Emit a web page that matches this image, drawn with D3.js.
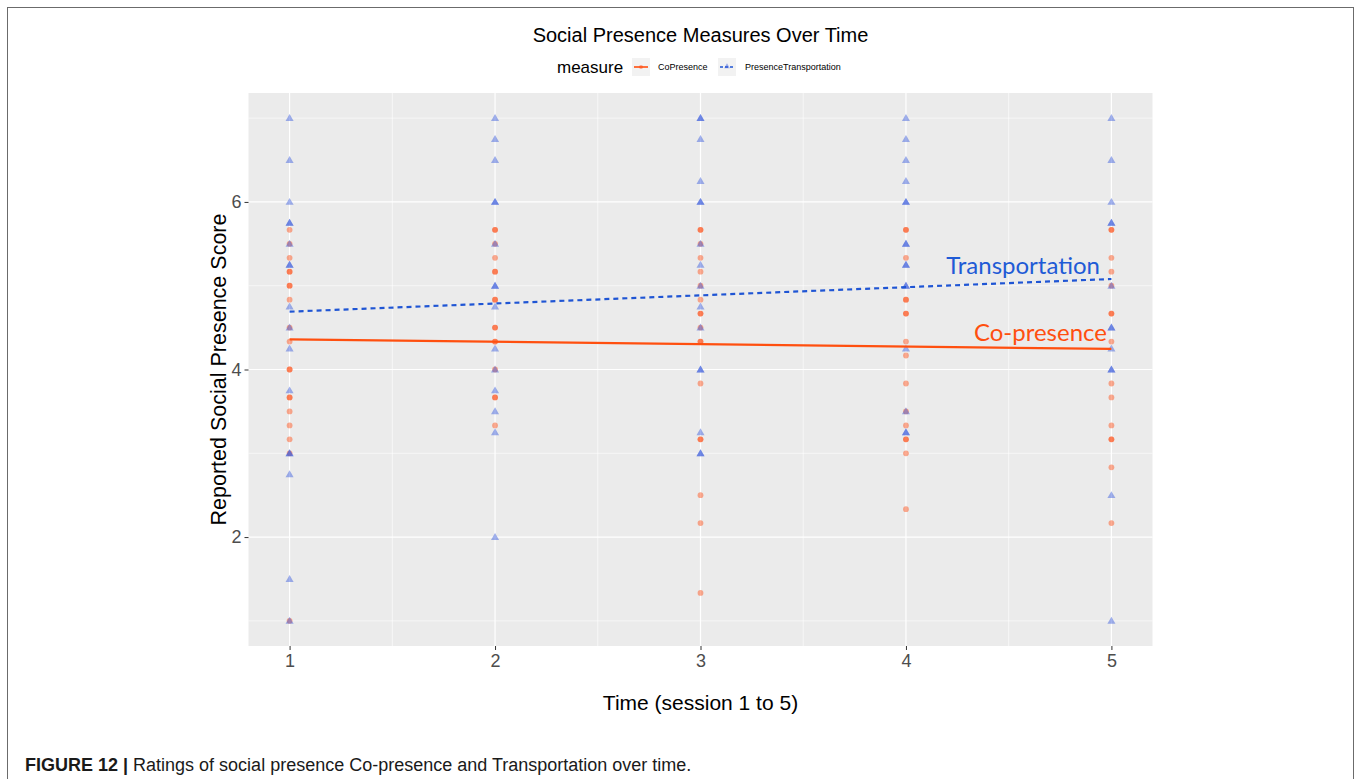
<!DOCTYPE html>
<html>
<head>
<meta charset="utf-8">
<script src="https://cdn.jsdelivr.net/npm/d3@7"></script>
<style>
  html, body { margin: 0; padding: 0; background: #fff; }
  svg { display: block; }
  text { font-family: "Liberation Sans", Arial, Helvetica, sans-serif; }
</style>
</head>
<body>
<svg id="chart" width="1355" height="779"></svg>
<script>
// ---- data -------------------------------------------------------------
const sessions = [1, 2, 3, 4, 5];
const xTicks = [1, 2, 3, 4, 5];
const yTicks = [2, 4, 6];
const measures = ["CoPresence", "PresenceTransportation"];

// Co-presence ratings per session
const coPresence1 = [5.667, 5.5, 5.333, 5.167, 5.167, 5.0, 5.0, 4.833, 4.5, 4.333, 4.0, 4.0, 3.667, 3.667, 3.5, 3.333, 3.167, 3.0, 1.0];
const coPresence2 = [5.667, 5.667, 5.5, 5.333, 5.167, 5.167, 4.833, 4.833, 4.5, 4.5, 4.333, 4.333, 4.0, 3.667, 3.667, 3.333];
const coPresence3 = [5.667, 5.667, 5.5, 5.333, 5.167, 5.0, 4.833, 4.667, 4.667, 4.5, 4.333, 4.333, 3.833, 3.167, 3.167, 2.5, 2.167, 1.333];
const coPresence4 = [5.667, 5.667, 5.333, 4.833, 4.833, 4.667, 4.667, 4.333, 4.167, 3.833, 3.5, 3.333, 3.167, 3.167, 3.0, 2.333];
const coPresence5 = [5.667, 5.667, 5.333, 5.167, 5.0, 4.667, 4.667, 4.333, 3.833, 3.667, 3.333, 3.167, 3.167, 2.833, 2.167];

// Presence / transportation ratings per session
const transport1 = [7, 6.5, 6, 5.75, 5.75, 5.5, 5.25, 5.25, 4.75, 4.5, 4.25, 3.75, 3.0, 3.0, 2.75, 1.5, 1.0];
const transport2 = [7, 6.75, 6.5, 6, 6, 5.5, 5.0, 5.0, 4.75, 4.25, 4.0, 3.75, 3.5, 3.25, 2.0];
const transport3 = [7, 7, 6.75, 6.25, 6, 6, 5.5, 5.25, 5.0, 4.75, 4.5, 4.0, 4.0, 3.25, 3.0, 3.0];
const transport4 = [7, 6.75, 6.5, 6.25, 6, 6, 5.5, 5.5, 5.25, 5.25, 5.0, 5.0, 4.25, 3.5, 3.25, 3.25];
const transport5 = [7, 6.5, 6, 5.75, 5.75, 5.0, 4.5, 4.5, 4.25, 4.0, 4.0, 2.5, 1.0];

// Linear trend (fitted values at first and last session)
const fitSessions = [1, 5];
const coPresenceFit = [4.36, 4.245];
const transportFit = [4.69, 5.08];

// ---- styling -----------------------------------------------------------
const orange = "#FF490F";
const blue = "#3054DB";
const lineOrange = "#FF4F0F";
const lineBlue = "#1F55D4";
const pointAlpha = 0.45;

const svg = d3.select("#chart");
const W = 1355, H = 779;

// figure frame
svg.append("rect").attr("x", 7.5).attr("y", 7.5).attr("width", W - 9).attr("height", H + 10)
  .attr("fill", "#fff").attr("stroke", "#6b6b6b").attr("stroke-width", 1);

const panel = { left: 248.5, right: 1152.5, top: 93, bottom: 646 };

const x = d3.scaleLinear().domain([0.8, 5.2]).range([panel.left, panel.right]);
const y = d3.scaleLinear().domain([0.7, 7.3]).range([panel.bottom, panel.top]);

// panel background
svg.append("rect")
  .attr("x", panel.left).attr("y", panel.top)
  .attr("width", panel.right - panel.left).attr("height", panel.bottom - panel.top)
  .attr("fill", "#EBEBEB");

const grid = svg.append("g");
// minor grid lines (midpoints between breaks)
const xMinor = d3.range(1.5, 5, 1);
const yMinor = [1, 3, 5, 7];
grid.selectAll("line.xminor").data(xMinor).join("line")
  .attr("x1", d => x(d)).attr("x2", d => x(d))
  .attr("y1", panel.top).attr("y2", panel.bottom)
  .attr("stroke", "#fff").attr("stroke-width", 0.6);
grid.selectAll("line.yminor").data(yMinor).join("line")
  .attr("y1", d => y(d)).attr("y2", d => y(d))
  .attr("x1", panel.left).attr("x2", panel.right)
  .attr("stroke", "#fff").attr("stroke-width", 0.6);
// major grid lines
grid.selectAll("line.xmajor").data(xTicks).join("line")
  .attr("x1", d => x(d)).attr("x2", d => x(d))
  .attr("y1", panel.top).attr("y2", panel.bottom)
  .attr("stroke", "#fff").attr("stroke-width", 1.2);
grid.selectAll("line.ymajor").data(yTicks).join("line")
  .attr("y1", d => y(d)).attr("y2", d => y(d))
  .attr("x1", panel.left).attr("x2", panel.right)
  .attr("stroke", "#fff").attr("stroke-width", 1.2);

// ---- points -------------------------------------------------------------
const coBySession = [coPresence1, coPresence2, coPresence3, coPresence4, coPresence5];
const trBySession = [transport1, transport2, transport3, transport4, transport5];

const coPoints = sessions.flatMap((s, i) => coBySession[i].map(v => ({ s, v })));
const trPoints = sessions.flatMap((s, i) => trBySession[i].map(v => ({ s, v })));

svg.append("g").selectAll("circle").data(coPoints).join("circle")
  .attr("cx", d => x(d.s)).attr("cy", d => y(d.v)).attr("r", 2.9)
  .attr("fill", orange).attr("fill-opacity", pointAlpha);

const tri = d3.symbol().type(d3.symbolTriangle).size(28);
svg.append("g").selectAll("path").data(trPoints).join("path")
  .attr("d", tri)
  .attr("transform", d => `translate(${x(d.s)},${y(d.v) + 0.6})`)
  .attr("fill", blue).attr("fill-opacity", pointAlpha);

// ---- trend lines -------------------------------------------------------
const line = d3.line().x(d => x(d[0])).y(d => y(d[1]));
svg.append("path")
  .datum(fitSessions.map((s, i) => [s, transportFit[i]]))
  .attr("d", line).attr("fill", "none")
  .attr("stroke", lineBlue).attr("stroke-width", 2.2).attr("stroke-dasharray", "5,4");
svg.append("path")
  .datum(fitSessions.map((s, i) => [s, coPresenceFit[i]]))
  .attr("d", line).attr("fill", "none")
  .attr("stroke", lineOrange).attr("stroke-width", 2.2);

// line labels
svg.append("text").attr("x", 1100).attr("y", 274).attr("text-anchor", "end")
  .style("font-family", "Lato, 'Open Sans', sans-serif").style("font-size", "24px")
  .attr("fill", "#1F5BD6").text("Transportation");
svg.append("text").attr("x", 1107).attr("y", 341).attr("text-anchor", "end")
  .style("font-family", "Lato, 'Open Sans', sans-serif").style("font-size", "24px")
  .attr("fill", "#FF4F0F").text("Co-presence");

// ---- axes --------------------------------------------------------------
const xAxis = d3.axisBottom(x).tickValues(xTicks).tickSize(4).tickPadding(4).tickFormat(d3.format("d"));
const gx = svg.append("g").attr("transform", `translate(0,${panel.bottom})`).call(xAxis);
gx.select(".domain").remove();
gx.selectAll(".tick line").attr("stroke", "#333").attr("stroke-width", 1);
gx.selectAll(".tick text").attr("fill", "#4D4D4D").style("font-size", "18px")
  .style("font-family", "'Liberation Sans', Arial, sans-serif");

const yAxis = d3.axisLeft(y).tickValues(yTicks).tickSize(4).tickPadding(3).tickFormat(d3.format("d"));
const gy = svg.append("g").attr("transform", `translate(${panel.left},0)`).call(yAxis);
gy.select(".domain").remove();
gy.selectAll(".tick line").attr("stroke", "#333").attr("stroke-width", 1);
gy.selectAll(".tick text").attr("fill", "#4D4D4D").style("font-size", "18px")
  .style("font-family", "'Liberation Sans', Arial, sans-serif");

// axis titles
svg.append("text").attr("x", x(3)).attr("y", 710).attr("text-anchor", "middle")
  .style("font-size", "21px").attr("fill", "#000").text("Time (session 1 to 5)");
svg.append("text").attr("transform", `translate(226,${(panel.top + panel.bottom) / 2}) rotate(-90)`)
  .attr("text-anchor", "middle").style("font-size", "21.5px").attr("fill", "#000")
  .text("Reported Social Presence Score");

// title
svg.append("text").attr("x", x(3)).attr("y", 42).attr("text-anchor", "middle")
  .style("font-size", "20px").attr("fill", "#000").text("Social Presence Measures Over Time");

// ---- legend ------------------------------------------------------------
const legend = svg.append("g");
legend.append("text").attr("x", 557).attr("y", 73).style("font-size", "17px").attr("fill", "#000").text("measure");
const keys = [
  { name: measures[0], kx: 632, tx: 658, color: lineOrange, dash: null, shape: "circle" },
  { name: measures[1], kx: 718, tx: 745, color: lineBlue, dash: "3,2", shape: "triangle" }
];
keys.forEach(k => {
  legend.append("rect").attr("x", k.kx).attr("y", 58).attr("width", 18).attr("height", 18).attr("fill", "#F2F2F2");
  legend.append("line").attr("x1", k.kx + 2).attr("x2", k.kx + 16).attr("y1", 67).attr("y2", 67)
    .attr("stroke", k.color).attr("stroke-width", 1.6).attr("stroke-dasharray", k.dash);
  if (k.shape === "circle") {
    legend.append("circle").attr("cx", k.kx + 9).attr("cy", 67).attr("r", 2).attr("fill", orange).attr("fill-opacity", pointAlpha);
  } else {
    legend.append("path").attr("d", d3.symbol().type(d3.symbolTriangle).size(14))
      .attr("transform", `translate(${k.kx + 9},66.5)`).attr("fill", blue).attr("fill-opacity", pointAlpha);
  }
  legend.append("text").attr("x", k.tx).attr("y", 70).style("font-size", "9px").attr("fill", "#000").text(k.name);
});

// ---- caption -----------------------------------------------------------
const cap = svg.append("text").attr("x", 25).attr("y", 771)
  .style("font-family", "'Liberation Sans', Arial, sans-serif")
  .style("font-size", "18px").attr("fill", "#1a1a1a");
cap.append("tspan").style("font-weight", "bold").text("FIGURE 12 | ");
cap.append("tspan").text("Ratings of social presence Co-presence and Transportation over time.");
</script>
</body>
</html>
